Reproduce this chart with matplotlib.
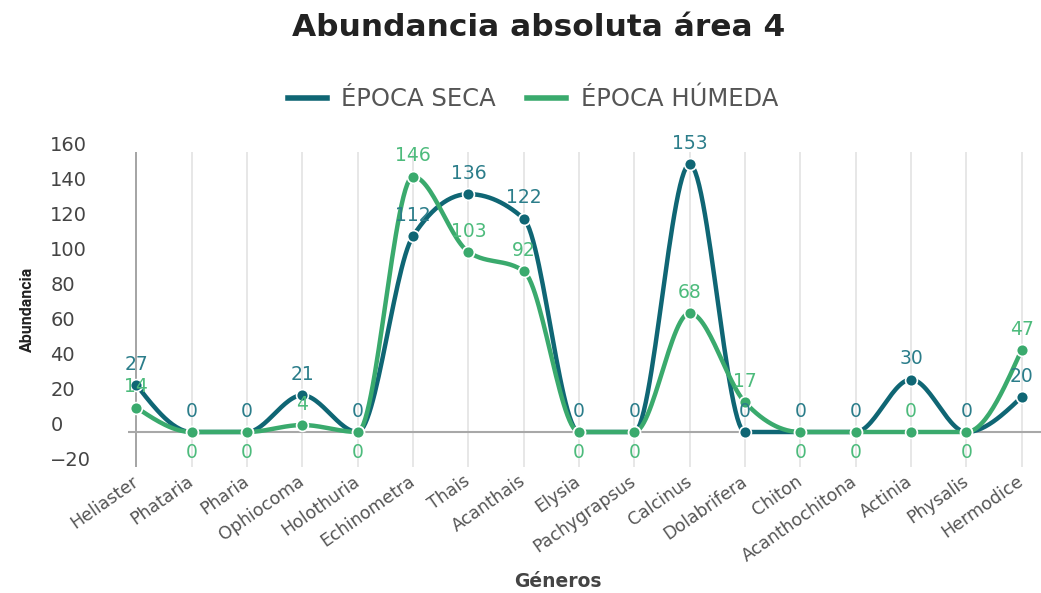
import numpy as np
import matplotlib
matplotlib.use("Agg")
import matplotlib.pyplot as plt
from matplotlib.lines import Line2D
from matplotlib.transforms import ScaledTranslation

plt.rcParams["font.family"] = ["DejaVu Sans"]

generos = ["Heliaster", "Phataria", "Pharia", "Ophiocoma", "Holothuria",
           "Echinometra", "Thais", "Acanthais", "Elysia", "Pachygrapsus",
           "Calcinus", "Dolabrifera", "Chiton", "Acanthochitona", "Actinia",
           "Physalis", "Hermodice"]
epoca_seca = [27, 0, 0, 21, 0, 112, 136, 122, 0, 0, 153, 0, 0, 0, 30, 0, 20]
epoca_humeda = [14, 0, 0, 4, 0, 146, 103, 92, 0, 0, 68, 17, 0, 0, 0, 0, 47]

C_SECA = "#0f6674"
C_HUMEDA = "#3aaa6d"
C_SECA_TXT = "#2b7d8a"
C_HUMEDA_TXT = "#4dbb7c"


def monotone(x, y, n=30):
    # monotone cubic (Fritsch-Carlson), flat at local extrema
    x = np.asarray(x, float)
    y = np.asarray(y, float)
    h = np.diff(x)
    d = np.diff(y) / h
    m = np.zeros_like(y)
    for i in range(1, len(y) - 1):
        if d[i - 1] * d[i] <= 0:
            m[i] = 0
        else:
            p = (d[i - 1] * h[i] + d[i] * h[i - 1]) / (h[i - 1] + h[i])
            m[i] = np.sign(d[i - 1]) * min(abs(d[i - 1]), abs(d[i]), 0.5 * abs(p)) * 2
            m[i] = np.sign(m[i]) * min(abs(m[i]), 2 * abs(d[i - 1]), 2 * abs(d[i]))
    m[0] = (3 * d[0] - m[1]) / 2
    m[-1] = (3 * d[-1] - m[-2]) / 2
    xs, ys = [], []
    for i in range(len(h)):
        t = np.linspace(0, 1, n)
        h00 = 2 * t**3 - 3 * t**2 + 1
        h10 = t**3 - 2 * t**2 + t
        h01 = -2 * t**3 + 3 * t**2
        h11 = t**3 - t**2
        xs.append(x[i] + t * h[i])
        ys.append(h00 * y[i] + h10 * h[i] * m[i] + h01 * y[i + 1] + h11 * h[i] * m[i + 1])
    return np.concatenate(xs), np.concatenate(ys)


fig = plt.figure(figsize=(10.41, 5.93), dpi=100)
ax = fig.add_axes([0.123, 0.2125, 0.877, 0.531])

x = np.arange(len(generos))

for xi in x:
    ax.axvline(xi, color="#e3e3e3", lw=1.2, zorder=0)
ax.axvline(0, color="#999999", lw=1.2, zorder=1)
ax.axhline(0, color="#a8a8a8", lw=1.5, zorder=1)

for vals, col in [(epoca_seca, C_SECA), (epoca_humeda, C_HUMEDA)]:
    sx, sy = monotone(x, vals)
    ax.plot(sx, sy, color=col, lw=3.2, solid_capstyle="round", zorder=3)
    ax.plot(x, vals, "o", ms=8.5, color=col, mec="white", mew=1.2, zorder=4)

# value labels: humeda zeros go below the line when both series are zero
for xi, s, h in zip(x, epoca_seca, epoca_humeda):
    ax.annotate(str(s), (xi, s), xytext=(0, 8), textcoords="offset points",
                ha="center", va="bottom", fontsize=13.5, color=C_SECA_TXT, zorder=5)
    below = h == 0 and s == 0
    ax.annotate(str(h), (xi, h), xytext=(0, -8 if below else 8),
                textcoords="offset points", ha="center",
                va="top" if below else "bottom",
                fontsize=13.5, color=C_HUMEDA_TXT, zorder=5)

ax.set_xlim(-0.15, 16.35)
ax.set_ylim(-20, 160)
ax.set_yticks(np.arange(-20, 161, 20))
ax.set_xticks(x)
ax.set_xticklabels(generos, rotation=35, ha="right", va="center",
                   rotation_mode="anchor", fontsize=12.5, color="#555555")
ax.tick_params(axis="x", length=0, pad=9)
ax.tick_params(axis="y", length=0, pad=56, labelsize=14, labelcolor="#444444")
for lab in ax.get_yticklabels():
    lab.set_horizontalalignment("left")
    lab.set_transform(lab.get_transform() + ScaledTranslation(0, 6 / 72, fig.dpi_scale_trans))
for sp in ax.spines.values():
    sp.set_visible(False)

ax.set_ylabel("Abundancia", fontsize=11.5, fontweight="bold", color="#222222",
              family="Roboto")
ax.yaxis.set_label_coords(-0.102, 0.5)
ax.set_xlabel("Géneros", fontsize=13.5, fontweight="bold", color="#444444")
ax.xaxis.set_label_coords(0.471, -0.335)

fig.text(0.517, 0.954, "Abundancia absoluta área 4", ha="center", va="center",
         fontsize=22.5, fontweight="bold", color="#222222")

handles = [Line2D([], [], color=C_SECA, lw=4),
           Line2D([], [], color=C_HUMEDA, lw=4)]
fig.legend(handles, ["ÉPOCA SECA", "ÉPOCA HÚMEDA"], loc="center",
           bbox_to_anchor=(0.512, 0.833), ncol=2, frameon=False,
           fontsize=17.5, labelcolor="#555555", handlelength=1.6,
           columnspacing=1.3, handletextpad=0.6)

fig.savefig("out.png", dpi=100)
